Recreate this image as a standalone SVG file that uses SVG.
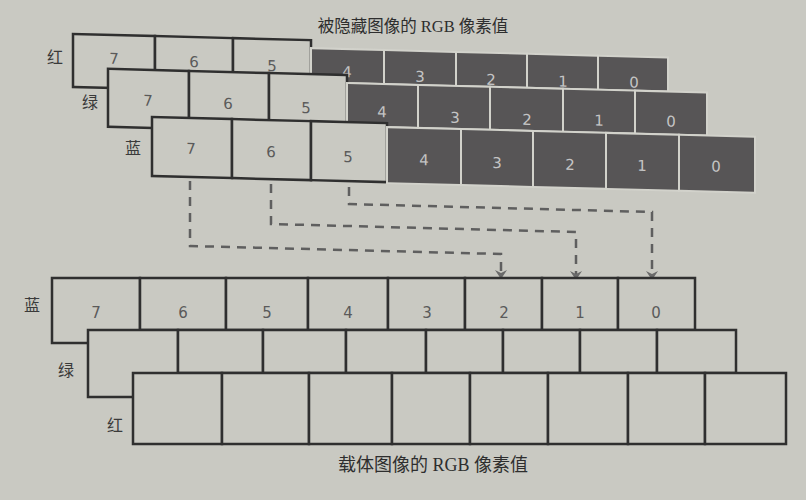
<svg xmlns="http://www.w3.org/2000/svg" width="806" height="500" viewBox="0 0 806 500">
<style>
.cell{fill:#c9c9c2;stroke:#2f2f2f;stroke-width:2.5}
.dark{fill:#575556;stroke:#d2d2cb;stroke-width:2}
.d{font-family:"DejaVu Sans",sans-serif;font-size:15px;fill:#5a5a5a;text-anchor:middle}
.dl{font-family:"DejaVu Sans",sans-serif;font-size:15px;fill:#c4c4c4;text-anchor:middle}
.lab{font-family:"Noto Sans CJK SC",sans-serif;font-size:16px;fill:#3a3a3a;text-anchor:middle}
.cap{font-family:"Liberation Serif","Noto Sans CJK SC",serif;fill:#2e2e2e;text-anchor:middle}
.conn{fill:none;stroke:#5f5f5f;stroke-width:2.5;stroke-dasharray:9 7}
</style>
<defs>
<marker id="arr" markerUnits="userSpaceOnUse" markerWidth="14" markerHeight="14" refX="0" refY="0" viewBox="-10 -7 12 14" orient="auto">
<path d="M0,0 L-9,-6 L-6,0 L-9,6 Z" style="fill:#6a6a6a;stroke:none"/>
</marker>
</defs>
<rect width="806" height="500" fill="#c9c9c2"/>

<text class="cap" x="413" y="32" font-size="16.5">被隐藏图像的 RGB 像素值</text>

<g id="hidden" transform="skewY(1.5)">
  <g id="hidden-red">
    <rect class="cell" x="73" y="32" width="82" height="53"/>
    <rect class="cell" x="155" y="32" width="78" height="53"/>
    <rect class="cell" x="233" y="32" width="78" height="53"/>
    <text class="d" x="114" y="61">7</text>
    <text class="d" x="194" y="62">6</text>
    <text class="d" x="272" y="64">5</text>
    <rect class="dark" x="311" y="40" width="73" height="34"/>
    <rect class="dark" x="384" y="40" width="72" height="34"/>
    <rect class="dark" x="456" y="40" width="71" height="34"/>
    <rect class="dark" x="527" y="40" width="71" height="34"/>
    <rect class="dark" x="598" y="40" width="70" height="34"/>
    <text class="dl" x="347" y="68">4</text>
    <text class="dl" x="420" y="71">3</text>
    <text class="dl" x="491" y="72">2</text>
    <text class="dl" x="563" y="72">1</text>
    <text class="dl" x="634" y="71">0</text>
  </g>
  <g id="hidden-green">
    <rect class="cell" x="108" y="66" width="81" height="58"/>
    <rect class="cell" x="189" y="66" width="80" height="58"/>
    <rect class="cell" x="269" y="66" width="78" height="58"/>
    <text class="d" x="148" y="102">7</text>
    <text class="d" x="228" y="103">6</text>
    <text class="d" x="306" y="105">5</text>
    <rect class="dark" x="347" y="74" width="71" height="43"/>
    <rect class="dark" x="418" y="74" width="72" height="43"/>
    <rect class="dark" x="490" y="74" width="73" height="43"/>
    <rect class="dark" x="563" y="74" width="72" height="43"/>
    <rect class="dark" x="635" y="74" width="72" height="43"/>
    <text class="dl" x="382" y="107">4</text>
    <text class="dl" x="455" y="111">3</text>
    <text class="dl" x="527" y="111">2</text>
    <text class="dl" x="599" y="110">1</text>
    <text class="dl" x="671" y="109">0</text>
  </g>
  <g id="hidden-blue">
    <rect class="cell" x="152" y="113" width="80" height="59"/>
    <rect class="cell" x="232" y="113" width="79" height="59"/>
    <rect class="cell" x="311" y="113" width="76" height="59"/>
    <text class="d" x="191" y="149">7</text>
    <text class="d" x="271" y="150">6</text>
    <text class="d" x="348" y="153">5</text>
    <rect class="dark" x="387" y="117" width="74" height="56"/>
    <rect class="dark" x="461" y="117" width="72" height="56"/>
    <rect class="dark" x="533" y="117" width="73" height="56"/>
    <rect class="dark" x="606" y="117" width="73" height="56"/>
    <rect class="dark" x="679" y="117" width="76" height="56"/>
    <text class="dl" x="424" y="154">4</text>
    <text class="dl" x="497" y="155">3</text>
    <text class="dl" x="570" y="155">2</text>
    <text class="dl" x="642" y="154">1</text>
    <text class="dl" x="716" y="153">0</text>
  </g>
</g>

<g id="hidden-labels">
  <text class="lab" x="55" y="63">红</text>
  <text class="lab" x="90" y="108">绿</text>
  <text class="lab" x="133" y="154">蓝</text>
</g>

<g id="connectors">
  <path class="conn" d="M190,181 V246 L501,254 V279" marker-end="url(#arr)"/>
  <path class="conn" d="M271,184 V224 L576,232 V280" marker-end="url(#arr)"/>
  <path class="conn" d="M349,187 V204 L652,212 V280" marker-end="url(#arr)"/>
</g>

<g id="cover">
  <g id="cover-blue">
    <rect class="cell" x="52" y="278" width="88" height="65"/>
    <rect class="cell" x="140" y="278" width="86" height="52"/>
    <rect class="cell" x="226" y="278" width="82" height="52"/>
    <rect class="cell" x="308" y="278" width="80" height="52"/>
    <rect class="cell" x="388" y="278" width="77" height="52"/>
    <rect class="cell" x="465" y="278" width="77" height="52"/>
    <rect class="cell" x="542" y="278" width="76" height="52"/>
    <rect class="cell" x="618" y="278" width="77" height="52"/>
    <text class="d" x="96" y="318" font-size="16">7</text>
    <text class="d" x="183" y="318" font-size="16">6</text>
    <text class="d" x="267" y="318" font-size="16">5</text>
    <text class="d" x="348" y="318" font-size="16">4</text>
    <text class="d" x="427" y="318" font-size="16">3</text>
    <text class="d" x="504" y="318" font-size="16">2</text>
    <text class="d" x="580" y="318" font-size="16">1</text>
    <text class="d" x="656" y="318" font-size="16">0</text>
  </g>
  <g id="cover-green">
    <rect class="cell" x="88" y="330" width="90" height="67"/>
    <rect class="cell" x="178" y="330" width="85" height="43"/>
    <rect class="cell" x="263" y="330" width="83" height="43"/>
    <rect class="cell" x="346" y="330" width="80" height="43"/>
    <rect class="cell" x="426" y="330" width="77" height="43"/>
    <rect class="cell" x="503" y="330" width="77" height="43"/>
    <rect class="cell" x="580" y="330" width="77" height="43"/>
    <rect class="cell" x="657" y="330" width="79" height="43"/>
  </g>
  <g id="cover-red">
    <rect class="cell" x="133" y="373" width="89" height="71"/>
    <rect class="cell" x="222" y="373" width="87" height="71"/>
    <rect class="cell" x="309" y="373" width="83" height="71"/>
    <rect class="cell" x="392" y="373" width="78" height="71"/>
    <rect class="cell" x="470" y="373" width="78" height="71"/>
    <rect class="cell" x="548" y="373" width="80" height="71"/>
    <rect class="cell" x="628" y="373" width="77" height="71"/>
    <rect class="cell" x="705" y="373" width="81" height="71"/>
  </g>
</g>

<g id="cover-labels">
  <text class="lab" x="32" y="311" font-size="17">蓝</text>
  <text class="lab" x="66" y="376" font-size="17">绿</text>
  <text class="lab" x="115" y="431" font-size="17">红</text>
</g>

<text class="cap" x="433" y="471" font-size="18">载体图像的 RGB 像素值</text>
</svg>
